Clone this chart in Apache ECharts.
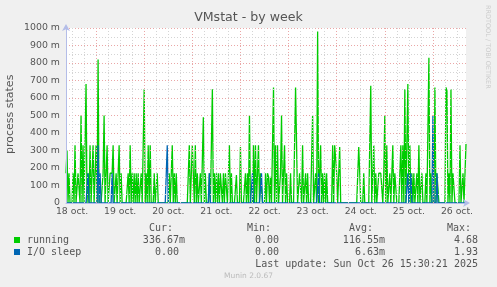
<!DOCTYPE html>
<html><head><meta charset="utf-8">
<script src="https://cdn.jsdelivr.net/npm/echarts@6/dist/echarts.min.js"></script>
<style>html,body{margin:0;padding:0;background:#f0f0f0}#c{width:497px;height:287px}</style>
</head><body><div id="c"></div>
<script>
// 400 slots of 30 min, slot 0 = Oct 18 09:00
const dayLabels = ['18 oct.', '19 oct.', '20 oct.', '21 oct.', '22 oct.', '23 oct.', '24 oct.', '25 oct.', '26 oct.'];
const running = [
  .17,.30,0,.17,0,0,0,.17,0,.33, 0,0,.17,.17,0,.50,0,.33,0,0,
  .68,0,.17,0,.33,0,0,.33,0,0, .33,0,.82,0,0,0,0,.17,.50,0,
  0,.33,0,0,.17,.17,.17,.33,0,0, .17,0,0,.33,0,.17,0,0,0,0,
  0,0,.17,0,.33,0,.17,0,.17,0, .17,0,.17,0,0,.17,0,0,.65,0,
  .17,0,.33,0,.33,0,0,0,.17,0, 0,.17,0,0,0,0,0,0,0,0,
  0,0,0,.17,0,0,.33,0,.17,0, .17,0,0,0,0,0,0,0,0,0,
  0,0,0,.33,0,0,.33,.17,0,.33, 0,.17,0,0,.17,0,0,.49,0,.17,
  0,0,0,.17,0,0,.65,0,.17,0, .17,0,.17,0,.17,.17,0,.17,0,.17,
  .17,0,0,.33,0,.17,0,0,0,0, .16,0,0,0,.32,0,0,0,0,.17,
  0,.17,0,.50,0,0,0,.33,0,.33, 0,0,.33,0,.17,.17,0,0,0,.17,
  0,.17,.15,0,.15,0,0,.66,0,.33, 0,.33,0,0,.17,.50,0,0,.33,0,
  .17,0,0,0,.17,0,0,0,0,.66, .33,0,0,.17,.17,0,.33,0,0,.17,
  0,.17,0,0,0,0,.50,0,0,.17, 0,.98,0,0,.33,0,.17,0,.17,0,
  .17,0,0,0,0,0,.33,0,.33,.33, .17,0,0,.32,0,.01,0,0,0,0,
  0,0,0,0,0,0,0,0,0,0, 0,0,.32,.17,0,0,0,.17,0,0,
  0,0,0,0,.67,0,0,.33,0,.17, 0,0,.17,.17,.17,.17,0,.17,.50,0,
  .33,0,0,.17,0,0,.33,0,.17,.17, 0,0,0,0,.33,0,.33,0,.65,0,
  0,.68,0,.33,0,.17,0,.17,0,0, .17,0,.33,0,0,.17,0,0,0,.17,
  0,0,.83,0,.17,0,0,0,.66,0, .17,.17,0,0,0,0,0,0,0,.66,
  .64,0,.17,0,.65,0,.17,.17,0,0, 0,0,0,.33,0,0,.17,0,0,.3367
];
const ioSleep = [
  0,0,0,0,0,0,0,0,0,0, 0,0,0,0,0,0,0,0,0,0,
  0,0,.17,0,0,0,0,0,0,0, 0,0,.33,0,.17,0,0,0,0,0,
  0,0,0,0,0,0,.17,0,0,0, 0,0,0,0,0,0,0,0,0,0,
  0,0,0,0,0,0,0,0,0,0, 0,0,0,0,0,0,0,0,0,0,
  0,0,0,0,0,0,0,0,0,0, 0,0,0,0,0,0,0,0,0,0,
  0,.33,0,0,0,0,0,0,0,0, 0,0,0,0,0,0,0,0,0,0,
  0,0,0,0,0,0,0,0,0,0, 0,0,0,0,0,0,0,0,0,0,
  0,0,0,.17,0,0,0,0,0,0, 0,0,0,0,0,0,0,0,0,0,
  0,0,0,0,0,0,0,0,0,0, 0,0,0,0,0,0,0,0,0,0,
  0,0,0,0,0,0,.17,0,0,0, 0,0,0,0,0,.17,0,0,0,0,
  0,0,0,0,0,0,0,0,0,0, 0,0,0,0,0,0,0,0,0,0,
  0,0,0,0,0,0,0,0,0,0, 0,0,0,0,0,0,0,0,0,0,
  0,0,0,0,0,0,0,0,0,0, 0,0,.17,0,0,0,0,0,0,0,
  0,0,0,0,0,0,0,0,0,0, 0,0,0,0,0,0,0,0,0,0,
  0,0,0,0,0,0,0,0,0,0, 0,0,0,0,0,0,0,0,0,0,
  0,0,0,0,0,0,0,0,0,0, 0,0,0,0,0,0,0,0,0,0,
  0,0,0,0,0,0,0,0,0,0, 0,0,0,0,0,0,0,0,0,0,
  0,.17,0,0,.17,0,0,0,0,0, 0,0,0,0,0,0,0,0,0,0,
  0,0,0,0,0,0,.50,0,0,0, .17,0,0,0,0,0,0,0,0,0,
  0,0,0,0,0,0,0,0,0,0, 0,0,0,0,0,0,0,0,0,0
];
const seriesNames = ['running', 'I/O sleep'];
const seriesColors = ['#00cc00', '#0066b3'];
const statHeaders = ['Cur:', 'Min:', 'Avg:', 'Max:'];
const statRows = [
  ['336.67m', '0.00', '116.55m', '4.68'],
  ['0.00', '0.00', '6.63m', '1.93']
];
const lastUpdate = 'Last update: Sun Oct 26 15:30:21 2025';
const categories = running.map((_, i) => i);

const chart = echarts.init(document.getElementById('c'), null, {renderer: 'canvas'});
const G = '#d4d4d4', R = '#eaa6a6';
const mono = '"DejaVu Sans Mono", monospace';
const sans = '"DejaVu Sans", sans-serif';
const txtColor = '#555';

const statRight = [185, 285, 385, 484]; // right edges incl. trailing space
const headerX = [149, 247, 349, 447];
const graphic = [
  {type: 'text', left: 'center', top: 11, style: {text: 'VMstat - by week', font: '12.6px ' + sans, fill: txtColor}},
  {type: 'text', x: 5, y: 154, rotation: Math.PI / 2, style: {text: 'process states', font: '11px ' + sans, fill: txtColor}},
  {type: 'text', x: 491, y: 5, rotation: -Math.PI / 2, style: {text: 'RRDTOOL / TOBI OETIKER', font: '6.5px ' + sans, fill: '#cccccc'}},
  {type: 'text', left: 'center', top: 272, style: {text: 'Munin 2.0.67', font: '7.5px ' + sans, fill: '#bbbbbb'}},
  {type: 'text', x: 484, y: 264, style: {text: lastUpdate + ' ', font: '10px ' + mono, fill: txtColor, align: 'right', verticalAlign: 'middle'}}
];
statHeaders.forEach((h, k) => graphic.push({type: 'text', x: headerX[k], y: 228, style: {text: h, font: '10px ' + mono, fill: txtColor, verticalAlign: 'middle'}}));
seriesNames.forEach((n, r) => {
  const y = 240 + r * 12;
  graphic.push({type: 'rect', shape: {x: 14, y: y - 3, width: 6, height: 6}, style: {fill: seriesColors[r]}});
  graphic.push({type: 'text', x: 27, y: y, style: {text: n, font: '10px ' + mono, fill: txtColor, verticalAlign: 'middle'}});
  statRows[r].forEach((v, k) => {
    const s = /[a-z]$/.test(v) ? v : v + ' ';
    graphic.push({type: 'text', x: statRight[k], y: y, style: {text: s, font: '10px ' + mono, fill: txtColor, align: 'right', verticalAlign: 'middle'}});
  });
});

chart.setOption({
  animation: false,
  backgroundColor: '#f0f0f0',
  grid: {left: 66, top: 28, width: 400, height: 175, show: true, backgroundColor: '#ffffff', borderWidth: 0},
  xAxis: {
    type: 'category', data: categories, boundaryGap: false, z: 5,
    axisLine: {show: true, lineStyle: {color: '#b4bde8', width: 1}, symbol: ['none', 'arrow'], symbolSize: [6, 7], symbolOffset: [0, 4]},
    axisTick: {show: false},
    axisLabel: {
      interval: (i) => (i - 6) % 48 === 0,
      formatter: (v, i) => dayLabels[(i - 6) / 48] || '',
      fontSize: 9.3, fontFamily: 'DejaVu Sans', color: txtColor, margin: 4
    },
    splitLine: {show: true, interval: (i) => (i - 6) % 12 === 0, lineStyle: {color: [G, G, R, G], type: [1, 2], width: 1}}
  },
  yAxis: {
    type: 'value', min: 0, max: 1, interval: 0.05, z: 5,
    axisLine: {show: true, lineStyle: {color: '#b4bde8', width: 1}, symbol: ['none', 'arrow'], symbolSize: [6, 7], symbolOffset: [0, 4]},
    axisTick: {show: false},
    axisLabel: {
      formatter: (v) => { const m = Math.round(v * 1000); return m % 100 !== 0 ? '' : (m === 0 ? '0' : m + ' m'); },
      fontSize: 9.4, fontFamily: 'DejaVu Sans', color: txtColor, margin: 6
    },
    splitLine: {show: true, lineStyle: {color: [R, G], type: [1, 2], width: 1}}
  },
  series: [
    {name: seriesNames[0], type: 'line', data: running, showSymbol: false, symbol: 'none', lineStyle: {color: seriesColors[0], width: 1.3}, z: 2},
    {name: seriesNames[1], type: 'line', data: ioSleep, showSymbol: false, symbol: 'none', lineStyle: {color: seriesColors[1], width: 1.3}, z: 3}
  ],
  graphic: graphic
});
</script></body></html>
